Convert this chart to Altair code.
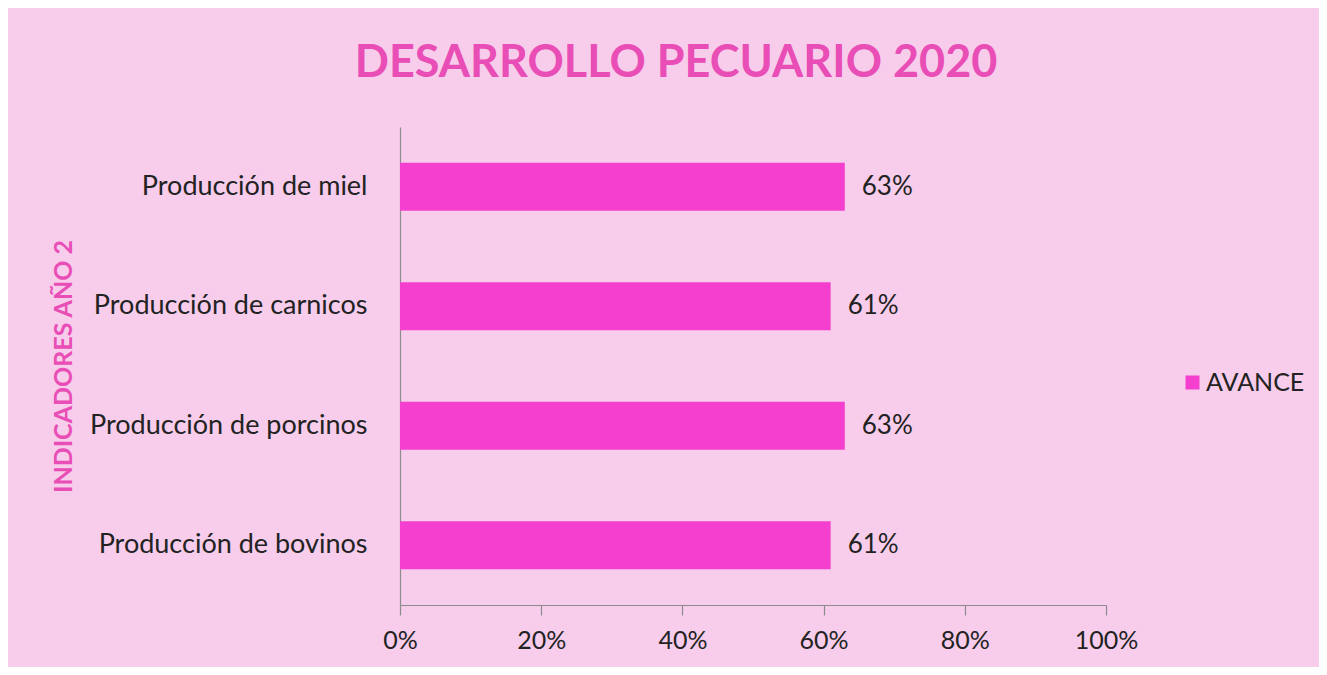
import altair as alt
import pandas as pd

categories = ["Producción de miel", "Producción de carnicos", "Producción de porcinos", "Producción de bovinos"]
values = [0.63, 0.61, 0.63, 0.61]
series = ["AVANCE", "AVANCE", "AVANCE", "AVANCE"]

df = pd.DataFrame({"indicador": categories, "avance": values, "serie": series})

FONT = "Lato"
PINK_BG = "#F7CDEB"
BAR = "#F53FCE"
TITLE = "#E94DB6"
TXT = "#222222"
FS = 25

base = alt.Chart(df)

bars = base.mark_bar(color=BAR).encode(
    y=alt.Y("indicador:N", sort=categories,
            scale=alt.Scale(paddingInner=0.6, paddingOuter=0.3),
            axis=alt.Axis(title="INDICADORES AÑO 2", titleAngle=270, titleX=-337, titleY=239,
                          titleAlign="center", titleBaseline="middle",
                          titleColor=TITLE, titleFont=FONT, titleFontSize=25, titleFontWeight="bold",
                          labelFont=FONT, labelFontSize=27, labelColor=TXT, labelPadding=33,
                          labelLimit=0,
                          ticks=False, domainColor="#8C8C8C", domainWidth=1.2)),
    x=alt.X("avance:Q", scale=alt.Scale(domain=[0, 1]),
            axis=alt.Axis(title=None, format=".0%", values=[0, 0.2, 0.4, 0.6, 0.8, 1.0],
                          grid=False, tickSize=10, tickColor="#8C8C8C", domainColor="#8C8C8C",
                          domainWidth=1.2, tickWidth=1.2,
                          labelFont=FONT, labelFontSize=FS, labelColor=TXT, labelPadding=13,
                          labelFlush=False)),
    color=alt.Color("serie:N", scale=alt.Scale(domain=["AVANCE"], range=[BAR]),
                    legend=alt.Legend(title=None, orient="none", legendX=780, legendY=243,
                                      symbolType="square", symbolSize=196, symbolStrokeWidth=0,
                                      labelFont=FONT, labelFontSize=FS, labelColor=TXT,
                                      labelOffset=1)),
)

labels = base.mark_text(align="left", baseline="middle", dx=17, font=FONT, fontSize=26, color=TXT).encode(
    y=alt.Y("indicador:N", sort=categories),
    x=alt.X("avance:Q"),
    text=alt.Text("avance:Q", format=".0%"),
)

chart = (bars + labels).properties(
    width=706, height=478,
    autosize=alt.AutoSizeParams(type="none"),
    padding={"left": 392, "top": 119, "right": 213, "bottom": 62},
    background=PINK_BG,
    title=alt.TitleParams("DESARROLLO PECUARIO 2020", anchor="middle", dx=-77, offset=41,
                          font=FONT, fontSize=45, fontWeight="bold", color=TITLE),
).configure_view(stroke=None)

chart.save("out.html", embed_options={"renderer": "svg", "actions": False})
